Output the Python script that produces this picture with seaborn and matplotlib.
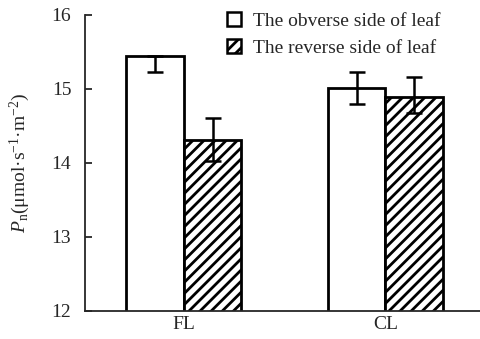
import numpy as np
import pandas as pd
import matplotlib
matplotlib.use("Agg")
import matplotlib.pyplot as plt
from matplotlib.patches import Patch
import seaborn as sns

# ------------------------------------------------------------
# data
# ------------------------------------------------------------
groups = ["FL", "CL"]
sides = ["The obverse side of leaf", "The reverse side of leaf"]
obverse = [15.45, 15.01]
reverse = [14.31, 14.89]
obverse_err_low = [0.22, 0.22]
obverse_err_high = [0.0, 0.22]
reverse_err_low = [0.29, 0.22]
reverse_err_high = [0.29, 0.27]
yticks = [12, 13, 14, 15, 16]

df = pd.DataFrame({
    "group": groups * 2,
    "side": [sides[0]] * 2 + [sides[1]] * 2,
    "pn": obverse + reverse,
})

sns.set_style("ticks")
plt.rcParams["font.family"] = ["Liberation Serif", "DejaVu Serif"]
plt.rcParams["mathtext.fontset"] = "custom"
plt.rcParams["mathtext.rm"] = "Liberation Serif"
plt.rcParams["mathtext.it"] = "Liberation Serif:italic"
plt.rcParams["hatch.linewidth"] = 2.0

fig = plt.figure(figsize=(4.81, 3.39), dpi=100)
ax = fig.add_axes([0.177, 0.083, 0.821, 0.873])

sns.barplot(data=df, x="group", y="pn", hue="side", order=groups, hue_order=sides,
            palette=["white", "white"], edgecolor="black", linewidth=2.0,
            width=0.57, errorbar=None, legend=False, ax=ax)

# hatch the reverse side bars, add error bars at bar centres
errs = [(obverse_err_low, obverse_err_high), (reverse_err_low, reverse_err_high)]
bar_containers = list(ax.containers)
for k, cont in enumerate(bar_containers):
    xs, ys = [], []
    for bar in cont:
        if k == 1:
            bar.set_hatch("///")
        xs.append(bar.get_x() + bar.get_width() / 2)
        ys.append(bar.get_height())
    ax.errorbar(xs, ys, yerr=[errs[k][0], errs[k][1]], fmt="none",
                ecolor="black", elinewidth=1.8, capsize=5.5, capthick=1.8, zorder=5)

ax.set_ylim(12, 16)
ax.set_xlim(-0.49, 1.47)
ax.set_yticks(yticks)
ax.set_xlabel("")
ax.set_ylabel(r"$P_{\rm n}$(μmol·s$^{-1}$·m$^{-2}$)", fontsize=14, labelpad=14)
ax.tick_params(axis="y", direction="in", length=5, width=1.3, labelsize=14, pad=10)
ax.tick_params(axis="x", length=0, labelsize=14, pad=4)
sns.despine(ax=ax)
for s in ["left", "bottom"]:
    ax.spines[s].set_linewidth(1.3)

handles = [
    Patch(facecolor="white", edgecolor="black", linewidth=1.8, label=sides[0]),
    Patch(facecolor="white", edgecolor="black", linewidth=1.8, hatch="///", label=sides[1]),
]
ax.legend(handles=handles, loc="upper left", bbox_to_anchor=(0.36, 1.01),
          frameon=False, fontsize=14, handlelength=0.7, handleheight=0.7,
          handletextpad=0.6, labelspacing=0.5, borderpad=0, borderaxespad=0)

fig.savefig("out.png", dpi=100)
